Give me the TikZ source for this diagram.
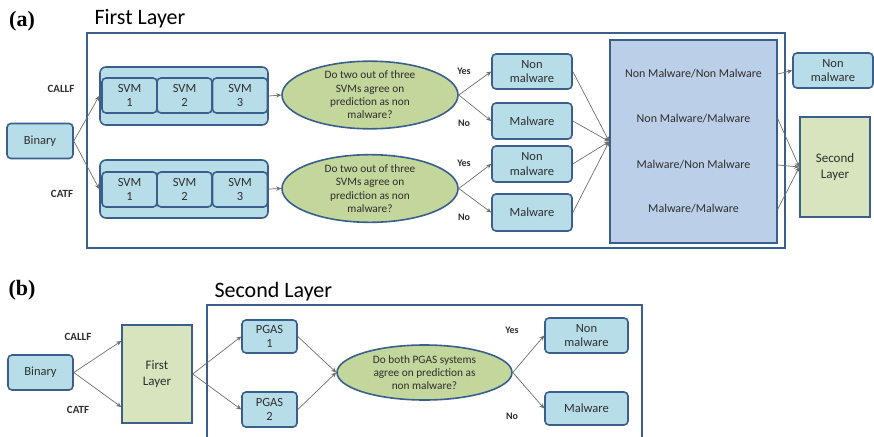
\documentclass[tikz,border=0pt]{standalone}
\usepackage{fontspec}
\setmainfont{Carlito}
\newfontfamily\serifbold{Liberation Serif}
\usetikzlibrary{arrows.meta,shapes.geometric}

\definecolor{edge}{HTML}{3A5F8C}
\definecolor{aqua}{HTML}{B7DDE8}
\definecolor{olive}{HTML}{D7E4BD}
\definecolor{oval}{HTML}{C3D69B}
\definecolor{periw}{HTML}{BCCFE8}
\definecolor{ink}{HTML}{2E2E2E}
\definecolor{wire}{HTML}{6E6E6E}

\tikzset{
  box/.style={rectangle, rounded corners=4pt, draw=edge, line width=1.6pt,
    fill=aqua, align=center, text=ink, inner sep=0pt,
    font=\fontsize{12.5}{14.5}\selectfont},
  svm/.style={box, minimum width=55pt, minimum height=35pt},
  holder/.style={box, minimum width=168pt, minimum height=58pt, rounded corners=6pt},
  question/.style={ellipse, draw=edge, line width=1.6pt, fill=oval, align=center,
    text=ink, inner sep=0pt, font=\fontsize{11.3}{13.3}\selectfont},
  layerbox/.style={rectangle, draw=edge, line width=1.4pt, fill=olive, align=center,
    text=ink, font=\fontsize{13}{16}\selectfont},
  row/.style={text=ink, font=\fontsize{12}{14}\selectfont},
  frame/.style={draw=edge, line width=1.3pt},
  lbl/.style={font=\bfseries\fontsize{10}{12}\selectfont, text=ink},
  flbl/.style={font=\bfseries\fontsize{11}{13}\selectfont, text=ink},
  arr/.style={draw=wire, line width=0.7pt, -{Stealth[length=5pt,width=4.5pt]}},
  title/.style={font=\fontsize{22}{24}\selectfont, text=black, anchor=west},
  tag/.style={font=\serifbold\bfseries\fontsize{22}{24}\selectfont, text=black}
}

\begin{document}
\begin{tikzpicture}[x=1pt,y=-1pt]
\useasboundingbox (0,0) rectangle (874,436);

% ---------------- part (a): first layer ----------------
\node[tag] (taga) at (22,21) {(a)};
\node[title] (ttla) at (91,19) {First Layer};
\draw[frame] (87,33) rectangle (785,248);

\node[box, minimum width=66pt, minimum height=35pt] (bin) at (40,141) {Binary};
\node[flbl] (callf) at (61,89) {CALLF};
\node[flbl] (catf) at (62,194) {CATF};

% upper SVM group
\node[holder] (grpA) at (184,96) {};
\node[svm] (a1) at (129.5,95.5) {SVM\\1};
\node[svm] (a2) at (184.5,95.5) {SVM\\2};
\node[svm] (a3) at (240,95.5) {SVM\\3};
% lower SVM group
\node[holder] (grpB) at (184,189) {};
\node[svm] (b1) at (129.5,189.5) {SVM\\1};
\node[svm] (b2) at (184.5,189.5) {SVM\\2};
\node[svm] (b3) at (240,189.5) {SVM\\3};

\node[question, minimum width=176pt, minimum height=56pt] (qa) at (370,95)
  {Do two out of three\\SVMs agree on\\prediction as non\\malware?};
\node[question, minimum width=176pt, minimum height=56pt] (qb) at (370,188.5)
  {Do two out of three\\SVMs agree on\\prediction as non\\malware?};

\node[box, minimum width=80pt, minimum height=35pt] (nmA) at (532,71.5) {Non\\malware};
\node[box, minimum width=80pt, minimum height=36pt] (mA) at (532,121) {Malware};
\node[box, minimum width=80pt, minimum height=36pt] (nmB) at (532,164) {Non\\malware};
\node[box, minimum width=80pt, minimum height=37pt] (mB) at (532,212.5) {Malware};

\node[lbl] (yA) at (464,71) {Yes};
\node[lbl] (noA) at (464,123) {No};
\node[lbl] (yB) at (464,163) {Yes};
\node[lbl] (noB) at (464,217) {No};

% combination table
\node[rectangle, draw=edge, line width=1.6pt, fill=periw, minimum width=167pt,
  minimum height=203pt] (tbl) at (693.5,141.5) {};
\node[row] (r1) at (693.5,74) {Non Malware/Non Malware};
\node[row] (r2) at (693.5,119) {Non Malware/Malware};
\node[row] (r3) at (693.5,165) {Malware/Non Malware};
\node[row] (r4) at (693.5,209) {Malware/Malware};

\node[box, minimum width=80pt, minimum height=35pt] (nmOut) at (833,70.5) {Non\\malware};
\node[layerbox, minimum width=70pt, minimum height=100pt] (second) at (835,167) {Second\\Layer};

% connectors (a)
\draw[arr] (bin.east) -- (grpA.west);
\draw[arr] (bin.east) -- (grpB.west);
\draw[arr] (grpA.east) -- (qa.west);
\draw[arr] (grpB.east) -- (qb.west);
\draw[arr] (qa.east) -- (nmA.west);
\draw[arr] (qa.east) -- (mA.west);
\draw[arr] (qb.east) -- (nmB.west);
\draw[arr] (qb.east) -- (mB.west);
\draw[arr] (nmA.east) -- (tbl.west);
\draw[arr] (mA.east) -- (tbl.west);
\draw[arr] (nmB.east) -- (tbl.west);
\draw[arr] (mB.east) -- (tbl.west);
\draw[arr] (r1 -| tbl.east) -- (nmOut.west);
\draw[arr] (r2 -| tbl.east) -- (second.west);
\draw[arr] (r3 -| tbl.east) -- (second.west);
\draw[arr] (r4 -| tbl.east) -- (second.west);

% ---------------- part (b): second layer ----------------
\node[tag] (tagb) at (22,290) {(b)};
\node[title] (ttlb) at (211,292) {Second Layer};
\draw[frame] (207,437) -- (207,305) -- (642,305) -- (642,437);

\node[box, minimum width=65pt, minimum height=35pt] (binB) at (40.5,372.5) {Binary};
\node[flbl] (callfB) at (78,337) {CALLF};
\node[flbl] (catfB) at (78,410) {CATF};
\node[layerbox, minimum width=70pt, minimum height=98pt] (first) at (157,374) {First\\Layer};

\node[box, minimum width=55pt, minimum height=33pt] (p1) at (269.5,336.5) {PGAS\\1};
\node[box, minimum width=55pt, minimum height=35pt] (p2) at (269.5,409.5) {PGAS\\2};

\node[question, minimum width=175pt, minimum height=55pt] (qc) at (424.5,372.5)
  {Do both PGAS systems\\agree on prediction as\\non malware?};

\node[box, minimum width=83pt, minimum height=35pt] (nmC) at (586.5,335.5) {Non\\malware};
\node[box, minimum width=83pt, minimum height=33pt] (mC) at (586.5,408.5) {Malware};

\node[lbl] (yC) at (512,330) {Yes};
\node[lbl] (noC) at (512,416) {No};

% connectors (b)
\draw[arr] (binB.east) -- (first.west |- 0,341);
\draw[arr] (binB.east) -- (first.west |- 0,407);
\draw[arr] (first.east) -- (p1.west);
\draw[arr] (first.east) -- (p2.west);
\draw[arr] (p1.east) -- (qc.west);
\draw[arr] (p2.east) -- (qc.west);
\draw[arr] (qc.east) -- (nmC.west);
\draw[arr] (qc.east) -- (mC.west);
\end{tikzpicture}
\end{document}
